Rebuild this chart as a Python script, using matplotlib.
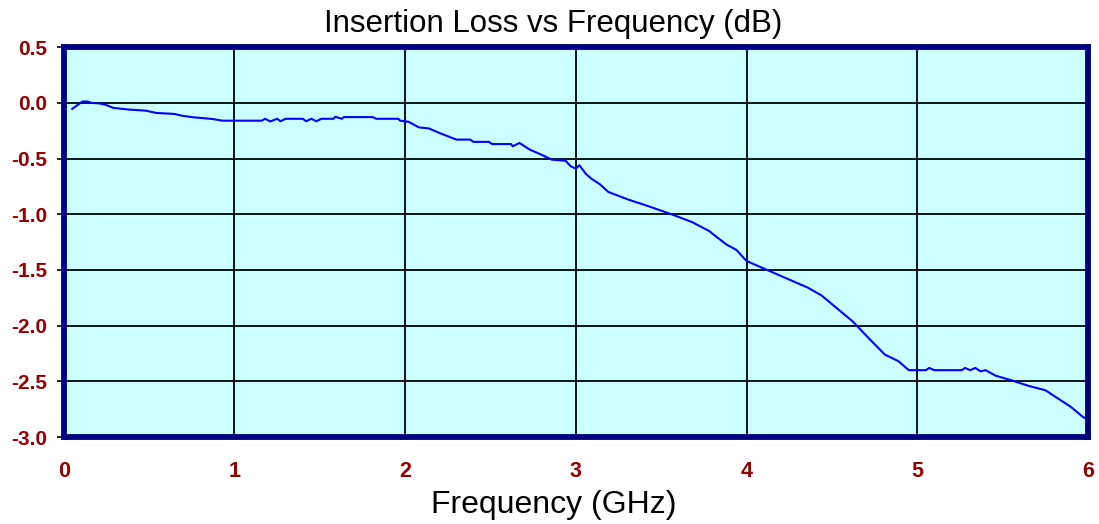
import matplotlib
matplotlib.use("Agg")
import matplotlib.pyplot as plt

plt.rcParams['font.family'] = ['Liberation Sans', 'DejaVu Sans']

freq_ghz = [0.05, 0.08, 0.11, 0.14, 0.16, 0.21, 0.25, 0.29, 0.38, 0.48, 0.54, 0.65, 0.69, 0.76, 0.80,
            0.87, 0.93, 1.16, 1.18, 1.21, 1.25, 1.27, 1.30, 1.40, 1.42, 1.45, 1.48, 1.51, 1.58, 1.59,
            1.63, 1.64, 1.81, 1.83, 1.96, 1.97, 2.02, 2.08, 2.14, 2.20, 2.30, 2.38, 2.40, 2.49, 2.51,
            2.62, 2.63, 2.67, 2.73, 2.79, 2.86, 2.94, 2.97, 3.00, 3.02, 3.06, 3.09, 3.14, 3.19, 3.31,
            3.41, 3.56, 3.68, 3.78, 3.88, 3.94, 4.00, 4.09, 4.21, 4.36, 4.44, 4.51, 4.62, 4.72, 4.81,
            4.89, 4.95, 5.05, 5.07, 5.10, 5.26, 5.28, 5.31, 5.34, 5.37, 5.40, 5.46, 5.55, 5.65, 5.75,
            5.85, 5.90, 5.97, 6.00]
loss_db = [-0.054, -0.02, 0.012, 0.012, 0.0, -0.005, -0.02, -0.045, -0.06, -0.07, -0.09, -0.10, -0.115,
           -0.13, -0.135, -0.145, -0.16, -0.16, -0.143, -0.167, -0.143, -0.165, -0.143, -0.143, -0.165,
           -0.143, -0.165, -0.143, -0.143, -0.125, -0.143, -0.128, -0.128, -0.143, -0.143, -0.16, -0.17,
           -0.22, -0.23, -0.27, -0.33, -0.33, -0.35, -0.35, -0.37, -0.37, -0.39, -0.36, -0.42, -0.46,
           -0.51, -0.52, -0.57, -0.59, -0.56, -0.64, -0.68, -0.73, -0.80, -0.87, -0.92, -1.00, -1.07,
           -1.15, -1.27, -1.32, -1.42, -1.48, -1.56, -1.66, -1.73, -1.82, -1.96, -2.12, -2.26, -2.32,
           -2.40, -2.40, -2.38, -2.40, -2.40, -2.38, -2.40, -2.38, -2.41, -2.40, -2.45, -2.49, -2.54,
           -2.58, -2.68, -2.73, -2.82, -2.84]

x_ticks = [0, 1, 2, 3, 4, 5, 6]
y_ticks = [0.5, 0.0, -0.5, -1.0, -1.5, -2.0, -2.5, -3.0]
y_tick_labels = ['0.5', '0.0', '-0.5', '-1.0', '-1.5', '-2.0', '-2.5', '-3.0']

fig = plt.figure(figsize=(10.99, 5.24), dpi=100)
ax = fig.add_axes([0.058, 0.166, 0.932, 0.744])
ax.set_facecolor('#CCFFFF')
ax.plot(freq_ghz, loss_db, color='#0000FF', linewidth=1.5, zorder=3)

ax.set_xlim(0, 6)
ax.set_ylim(-3.0, 0.5)
ax.set_xticks(x_ticks)
ax.set_yticks(y_ticks)
ax.set_yticklabels(y_tick_labels)
ax.grid(True, color='black', linewidth=1.3, zorder=1)
ax.set_axisbelow(True)

for s in ax.spines.values():
    s.set_color('#000080')
    s.set_linewidth(4.2)
    s.set_zorder(4)

ax.tick_params(axis='y', length=5, width=1.2, color='black', pad=7,
               labelsize=15, labelcolor='#8B0000')
ax.tick_params(axis='x', length=0, pad=17, labelsize=15.5, labelcolor='#8B0000')
for lab in ax.get_xticklabels() + ax.get_yticklabels():
    lab.set_fontweight('bold')

fig.text(0.503, 1 - 32 / 524, 'Insertion Loss vs Frequency (dB)', fontsize=22.5,
         ha='center', va='baseline')
fig.text(0.504, 1 - 513 / 524, 'Frequency (GHz)', fontsize=23,
         ha='center', va='baseline')

fig.savefig('out.png', dpi=100)
